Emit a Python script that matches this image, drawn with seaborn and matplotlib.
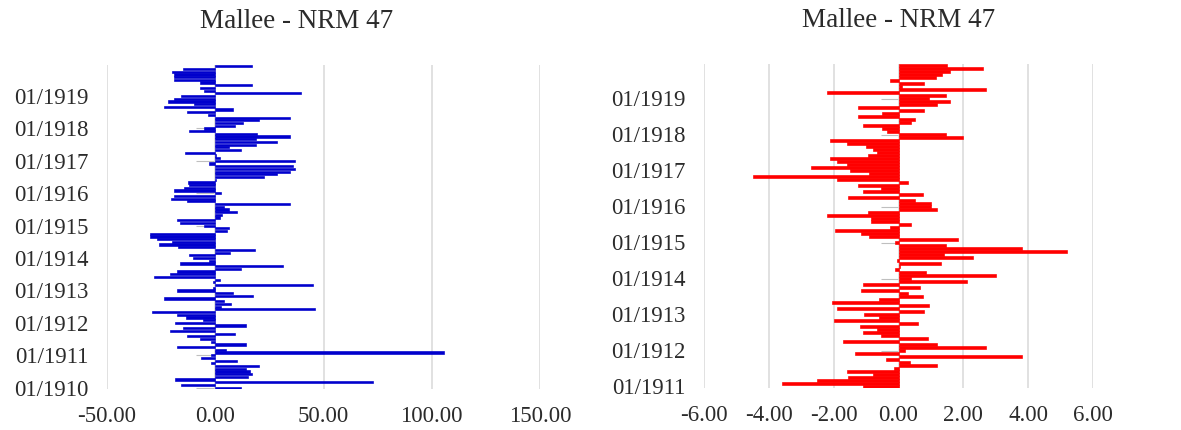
import matplotlib
matplotlib.use("Agg")
import matplotlib.pyplot as plt
import seaborn as sns
import pandas as pd

# Monthly values, Mallee - NRM 47
left_start_year = 1910
left_values = [
    12, -16, 73, -18.5, 15, 17, 16, 14, 20, -2, 10, -6.5,
    -2, 105.5, 5, -17.5, 14, -2, -7, -13, 9, -21, -15, 14,
    -18.5, -5.5, -13.5, -17.5, -29, 46, 2.5, 7.5, 4, -23.5, 17.5, 8,
    -17.5, -1, 45, -1, 2, -28.5, -21, -17.5, 12, 31.5, -16.5, -3,
    -10.5, -12, 7, 18.5, -17, -26, -20, -27, -30, -30, 5.5, 6.5,
    -5, -16.5, -17.5, 2, 3, 10, 6.5, 4, 34.5, -13, -20.5, -19,
    2.5, -19, -14.5, -12, -12.5, 0.5, 22.5, 28.5, 34.5, 37, 36, -3,
    36.8, 2, 0.5, -14, 12, 6.5, 19, 28.5, 19, 34.5, 19.5, -12,
    -5, 9, 13, 20, 34.5, -3.5, -13, 8, -23.5, -10, -22, -19,
    -16, 39.5, -5, -7, 17, -7, -19, -19, -19, -20, -15, 17,
]

right_start_year = 1911
right_values = [
    -1.1, -3.6, -2.5, -1.55, -0.8, -1.6, -0.15, 1.2, 0.35, -0.4, 3.8, -1.35,
    0.2, 2.7, 1.2, -1.7, 0.9, -0.55, -1.1, -0.65, -1.2, 0.6, -2.0, -0.6,
    -1.05, 0.8, -1.9, 0.95, -2.05, -0.6, 0.75, 0.3, -1.15, 0.65, -1.1, 2.1,
    0.4, 3.0, 0.85, -0.1, 0.05, 1.3, -0.05, 2.3, 1.4, 5.2, 3.8, 1.45,
    -0.1, 1.85, -0.9, -1.15, -1.95, -0.25, 0.4, -0.85, -0.85, -2.2, -0.95, 1.2,
    1.0, 1.0, 0.5, -1.55, 0.75, -1.1, -0.55, -1.25, 0.3, -1.9, -4.5, -0.9,
    -1.5, -2.7, -1.6, -1.9, -2.1, -0.95, -0.65, -0.8, -1.0, -1.6, -2.1, 2.0,
    1.45, -0.35, -0.5, -1.1, 0.4, 0.5, -1.25, -0.5, 0.8, -1.25, 1.2, 1.6,
    0.95, 1.45, -2.2, 2.7, 0.1, 0.8, -0.25, 1.15, 1.35, 1.6, 2.6, 1.5,
]

left_xticks = [-50, 0, 50, 100, 150]
right_xticks = [-6, -4, -2, 0, 2, 4, 6]
title_text = "Mallee - NRM 47"

TEXT = "#2b2b2b"
GRID = "#d9d9d9"
TICK = "#bfbfbf"

sns.set_theme(style="white")
plt.rcParams["font.family"] = ["Liberation Serif", "DejaVu Serif"]


def month_labels(start_year, n):
    return [f"{i % 12 + 1:02d}/{start_year + i // 12}" for i in range(n)]


def draw_panel(ax, values, start_year, color, xticks):
    labels = month_labels(start_year, len(values))
    df = pd.DataFrame({"month": labels, "value": values})
    order = labels[::-1]
    sns.barplot(data=df, x="value", y="month", order=order, orient="h",
                color=color, saturation=1, width=0.8, ax=ax,
                edgecolor=color, linewidth=0.45)
    n = len(labels)
    ax.set_ylim(n - 0.5, -0.5)
    ticks = [order.index(lab) for lab in labels if lab.startswith("01/")]
    ax.set_yticks(ticks)
    ax.set_yticklabels([order[t] for t in ticks])
    ax.set_xlim(xticks[0], xticks[-1])
    ax.set_xticks(xticks)
    ax.set_xticklabels([f"{t:.2f}" for t in xticks])
    ax.set_xlabel("")
    ax.set_ylabel("")
    ax.grid(axis="x", color=GRID, linewidth=1.1)
    ax.grid(axis="y", visible=False)
    ax.set_axisbelow(True)
    for s in ax.spines.values():
        s.set_visible(False)
    ax.tick_params(axis="both", length=0, labelsize=16.5, colors=TEXT)
    ax.tick_params(axis="y", pad=13)
    ax.tick_params(axis="x", pad=12)
    # short category tick marks on the zero line
    span = xticks[-1] - xticks[0]
    ax.hlines(ticks, -0.045 * span, 0, color=TICK, linewidth=0.8, zorder=0.5)


fig = plt.figure(figsize=(11.81, 4.30), dpi=100)
ax1 = fig.add_axes([107 / 1181, 41 / 430, 433 / 1181, 324 / 430])
ax2 = fig.add_axes([704 / 1181, 42 / 430, 389 / 1181, 324 / 430])

draw_panel(ax1, left_values, left_start_year, "#0000cc", left_xticks)
draw_panel(ax2, right_values, right_start_year, "#ff0000", right_xticks)

fig.text(297 / 1181, 1 - 28 / 430, title_text, ha="center", va="baseline",
         fontsize=19.5, color=TEXT)
fig.text(899 / 1181, 1 - 26.7 / 430, title_text, ha="center", va="baseline",
         fontsize=19.5, color=TEXT)

fig.savefig("out.png", dpi=100, facecolor="white")
